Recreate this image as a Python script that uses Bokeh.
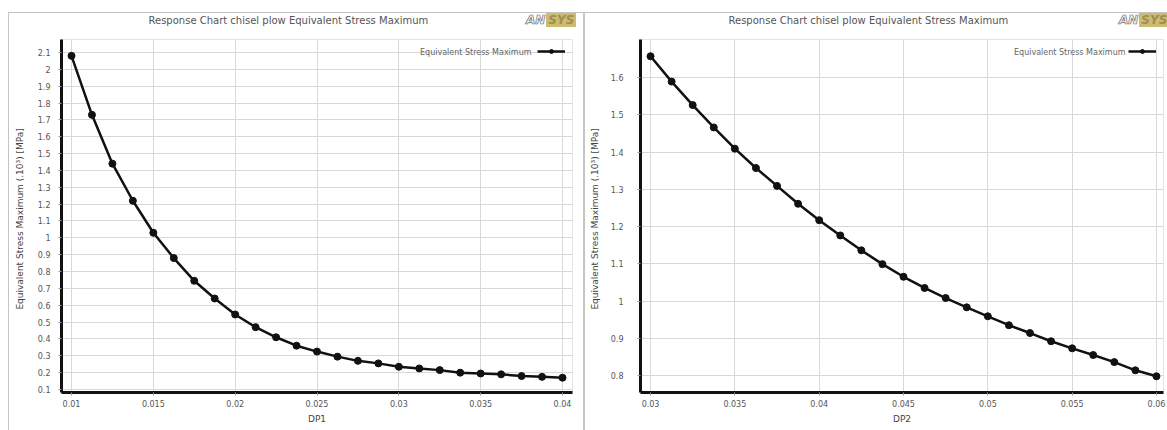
from bokeh.plotting import figure
from bokeh.layouts import row, column
from bokeh.models import Range1d, FixedTicker, Legend, LegendItem, Label, Spacer, Div
from bokeh.embed import file_html
from bokeh.resources import INLINE

TITLE = "Response Chart chisel plow Equivalent Stress Maximum"
YLABEL = "Equivalent Stress Maximum  (.10\u00b3)  [MPa]"
SERIES = "Equivalent Stress Maximum"

dp1 = [0.01, 0.01125, 0.0125, 0.01375, 0.015, 0.01625, 0.0175, 0.01875, 0.02,
       0.02125, 0.0225, 0.02375, 0.025, 0.02625, 0.0275, 0.02875, 0.03,
       0.03125, 0.0325, 0.03375, 0.035, 0.03625, 0.0375, 0.03875, 0.04]
stress1 = [2.08, 1.73, 1.44, 1.22, 1.03, 0.88, 0.745, 0.64, 0.545, 0.47, 0.41,
           0.36, 0.325, 0.295, 0.27, 0.255, 0.235, 0.225, 0.215, 0.20, 0.195,
           0.19, 0.18, 0.175, 0.17]

dp2 = [0.03, 0.03125, 0.0325, 0.03375, 0.035, 0.03625, 0.0375, 0.03875, 0.04,
       0.04125, 0.0425, 0.04375, 0.045, 0.04625, 0.0475, 0.04875, 0.05,
       0.05125, 0.0525, 0.05375, 0.055, 0.05625, 0.0575, 0.05875, 0.06]
stress2 = [1.657, 1.589, 1.526, 1.466, 1.409, 1.357, 1.309, 1.261, 1.217, 1.176,
           1.136, 1.099, 1.065, 1.035, 1.008, 0.983, 0.959, 0.935, 0.914, 0.892,
           0.873, 0.855, 0.836, 0.814, 0.798]

x1_ticks = [0.01, 0.015, 0.02, 0.025, 0.03, 0.035, 0.04]
x1_labels = ["0.01", "0.015", "0.02", "0.025", "0.03", "0.035", "0.04"]
y1_ticks = [2.1, 2.0, 1.9, 1.8, 1.7, 1.6, 1.5, 1.4, 1.3, 1.2, 1.1, 1.0, 0.9,
            0.8, 0.7, 0.6, 0.5, 0.4, 0.3, 0.2, 0.1]
y1_labels = ["2.1", "2", "1.9", "1.8", "1.7", "1.6", "1.5", "1.4", "1.3", "1.2",
             "1.1", "1", "0.9", "0.8", "0.7", "0.6", "0.5", "0.4", "0.3", "0.2", "0.1"]

x2_ticks = [0.03, 0.035, 0.04, 0.045, 0.05, 0.055, 0.06]
x2_labels = ["0.03", "0.035", "0.04", "0.045", "0.05", "0.055", "0.06"]
y2_ticks = [1.6, 1.5, 1.4, 1.3, 1.2, 1.1, 1.0, 0.9, 0.8]
y2_labels = ["1.6", "1.5", "1.4", "1.3", "1.2", "1.1", "1", "0.9", "0.8"]

FONT = "DejaVu Sans"
TXT = "#555555"


def make(width, xs, ys, xr, yr, xt, xl, yt, yl, xname, bl, br,
         ylab_standoff, lab_standoff, leg_text_x, title_x, shadow):
    p = figure(width=width, height=418, output_backend="svg", toolbar_location=None,
               x_range=Range1d(*xr), y_range=Range1d(*yr),
               min_border_left=bl, min_border_right=br, min_border_top=27,
               min_border_bottom=38, styles={"box-shadow": shadow})
    p.background_fill_color = "white"
    p.border_fill_alpha = 0.0
    p.outline_line_color = "#e4e4e4"
    p.title.text = ""

    # chart title, in the top side panel
    p.add_layout(Label(x=title_x, y=19, x_units="screen", y_units="screen",
                       text=TITLE, text_font=FONT, text_font_size="10px",
                       text_color="#555555", text_align="left",
                       text_baseline="middle"), "above")

    p.xaxis.ticker = FixedTicker(ticks=xt)
    p.yaxis.ticker = FixedTicker(ticks=yt)
    p.xaxis.major_label_overrides = {t: s for t, s in zip(xt, xl)}
    p.yaxis.major_label_overrides = {t: s for t, s in zip(yt, yl)}
    for ax in (p.xaxis[0], p.yaxis[0]):
        ax.axis_line_width = 3
        ax.axis_line_color = "#111111"
        ax.major_tick_in = 0
        ax.major_tick_out = 3
        ax.major_tick_line_color = "#999999"
        ax.minor_tick_line_color = None
        ax.major_label_text_font = FONT
        ax.major_label_text_font_size = "8px"
        ax.major_label_text_color = TXT
        ax.axis_label_text_font = FONT
        ax.axis_label_text_font_size = "9px"
        ax.axis_label_text_font_style = "normal"
        ax.axis_label_text_color = "#444444"
    p.xaxis.axis_label = xname
    p.yaxis.axis_label = YLABEL
    p.xaxis.major_label_standoff = 4
    p.xaxis.axis_label_standoff = 4
    p.yaxis.major_label_standoff = lab_standoff
    p.yaxis.axis_label_standoff = ylab_standoff

    p.grid.grid_line_color = "#d8d8d8"
    p.grid.grid_line_width = 1

    ln = p.line(xs, ys, line_color="#111111", line_width=2.5)
    sc = p.scatter(xs, ys, size=7, fill_color="#111111", line_color="#111111")

    leg = Legend(items=[LegendItem(label=" ", renderers=[ln, sc])],
                 location="top_right", label_text_font=FONT,
                 label_text_font_size="2px", label_standoff=0, label_width=0,
                 border_line_color=None, background_fill_color="white",
                 background_fill_alpha=0.0,
                 glyph_width=28, glyph_height=10, padding=1, margin=7)
    p.add_layout(leg)
    p.add_layout(Label(x=leg_text_x, y=340, x_units="screen", y_units="screen",
                       text=SERIES, text_font=FONT, text_font_size="8px",
                       text_color="#666666", text_align="right",
                       text_baseline="middle"))
    return p


def logo(left):
    html = ('<div style="font-family:\'DejaVu Sans\';font-weight:bold;font-style:italic;'
            'font-size:12px;line-height:13px;white-space:nowrap">'
            '<span style="color:#f2f2f2;-webkit-text-stroke:0.7px #707070;padding:0 1px">AN</span>'
            '<span style="background:#cdbb72;color:#a08e4c;padding:0 2px">SYS</span></div>')
    return Div(text=html, width=62, height=14,
               styles={"position": "absolute", "left": f"{left}px", "top": "7px",
                       "z-index": "10"})


p1 = make(576, dp1, stress1, (0.009389, 0.040611), (0.0822, 2.177),
          x1_ticks, x1_labels, y1_ticks, y1_labels, "DP1", 53, 12, 10, 8, 470, 87,
          "inset 1px 1px 0 #c4c4c4, inset -1px 0 0 #c4c4c4")
p2 = make(583, dp2, stress2, (0.029405, 0.060417), (0.7544, 1.702),
          x2_ticks, x2_labels, y2_ticks, y2_labels, "DP2", 56, 4, 8, 14, 485, 88,
          "inset 1px 1px 0 #c4c4c4")

layout = column(Spacer(height=12), row(Spacer(width=8), p1, p2), logo(520), logo(1113))
open("out.html", "w").write(file_html(layout, INLINE))
